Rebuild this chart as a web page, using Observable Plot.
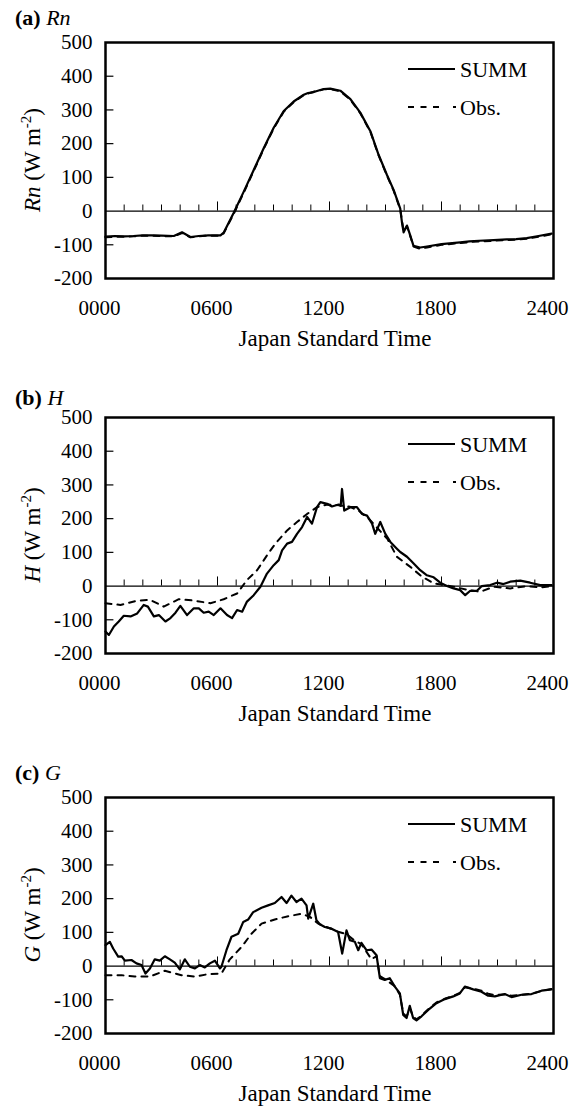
<!DOCTYPE html>
<html><head><meta charset="utf-8">
<script src="https://cdn.jsdelivr.net/npm/d3@7"></script>
<script src="https://cdn.jsdelivr.net/npm/@observablehq/plot@0.6"></script>
<style>
body{margin:0;background:#fff;}
#chart{position:relative;width:572px;height:1110px;background:#fff;}
#chart svg{position:absolute;left:0;}
</style>
</head><body><div id="chart"></div>
<script>
// ---- tick definitions ----
const xTicks = [0, 6, 12, 18, 24];
const xTickLabels = ["0000", "0600", "1200", "1800", "2400"];
const yLabelTicks = [500, 400, 300, 200, 100, 0, -100, -200];
const yInnerTicks = [400, 300, 200, 100, -100];
const hourTicks = d3.range(1, 24);
const seriesNames = ["SUMM", "Obs."];
const axisTitle = "Japan Standard Time";

// ---- (a) Rn ----
const rnHours = [0,0.5,1.0,1.5,2.0,2.5,3.0,3.66,4.1,4.55,5.0,5.5,6.16,6.33,6.87,7.4,7.94,8.48,9.01,9.55,10.08,10.62,10.85,11.15,11.69,12.04,12.58,13.12,13.65,14.19,14.63,15.08,15.44,15.79,15.88,15.97,16.15,16.33,16.5,16.86,17.22,18.0,19.0,19.5,20.0,20.79,21.5,22.0,22.57,23.2,23.9];
const rnSumm  = [-76,-74,-75,-74,-72,-72,-73,-74,-63,-77,-74,-72,-72,-64,-5,57,122,187,247,297,325,345,350,353,362,363,357,332,292,237,167,107,62,7,-33,-63,-43,-73,-103,-108,-105,-98,-93,-90,-88,-86,-84,-83,-80,-74,-67];
const rnObsHours = [0,0.5,1.0,1.5,2.0,2.5,3.0,3.66,4.1,4.55,5.0,5.5,6.16,6.33,6.87,7.4,7.94,8.48,9.01,9.55,10.08,10.62,11.15,11.69,12.04,12.58,13.12,13.65,14.19,14.63,15.08,15.44,15.79,15.97,16.15,16.33,16.5,16.86,17.22,18.0,19.0,19.5,20.0,20.79,21.5,22.0,22.57,23.2,23.9];
const rnObs   = [-78,-76,-76,-75,-73,-73,-74,-75,-65,-78,-75,-73,-73,-66,-8,54,119,185,245,295,323,344,354,361,362,355,330,290,235,165,105,60,5,-60,-45,-75,-105,-112,-108,-100,-95,-92,-90,-88,-86,-85,-82,-76,-69];

// ---- (b) H ----
const hHours = [0,0.18,0.45,0.71,0.98,1.34,1.7,2.05,2.27,2.59,2.86,3.21,3.48,3.75,4.01,4.37,4.73,5.0,5.26,5.53,5.8,6.16,6.51,6.78,7.05,7.32,7.58,7.94,8.3,8.65,9.01,9.28,9.46,9.73,9.99,10.26,10.53,10.8,11.06,11.33,11.51,11.87,12.13,12.49,12.6,12.67,12.79,13.12,13.47,13.74,14.01,14.28,14.45,14.72,14.99,15.26,15.61,15.79,16.15,16.51,16.86,17.22,17.58,17.93,18.29,18.65,19.0,19.27,19.54,19.9,20.16,20.61,20.97,21.32,21.68,22.22,22.75,23.29,23.9];
const hSumm  = [-135,-145,-120,-105,-88,-90,-81,-56,-61,-90,-86,-105,-95,-79,-59,-86,-66,-66,-79,-76,-86,-66,-86,-95,-71,-76,-46,-27,-2,37,62,77,106,126,131,155,175,205,185,234,249,244,236,242,238,288,224,234,234,214,209,185,155,190,155,131,111,101,87,67,47,32,26,10,0,-7,-12,-27,-14,-14,0,3,10,6,13,16,10,3,3];
const hObsHours = [0,0.8,1.7,2.4,3.12,3.93,4.73,5.62,6.33,7.05,7.58,8.12,8.65,9.1,9.73,10.26,10.8,11.33,11.9,12.5,13.1,13.6,14.1,14.6,15.1,15.61,16.33,16.95,17.58,18.65,19.3,20.07,20.8,21.68,22.57,23.29,23.9];
const hObs   = [-51,-56,-43,-41,-61,-39,-43,-51,-39,-22,18,47,91,126,165,190,214,234,242,240,235,222,200,170,140,87,57,28,8,-2,-10,-17,-2,-7,0,-4,0];

// ---- (c) G ----
const gHours = [0,0.23,0.41,0.68,0.86,1.04,1.39,1.66,1.93,2.14,2.38,2.64,2.91,3.18,3.45,3.71,3.98,4.25,4.52,4.79,5.05,5.32,5.59,5.86,6.13,6.21,6.48,6.75,7.11,7.38,7.64,7.91,8.36,8.71,9.07,9.43,9.7,9.96,10.23,10.5,10.77,10.86,11.13,11.3,11.48,11.75,12.11,12.46,12.68,12.91,13.09,13.36,13.54,13.71,13.98,14.25,14.52,14.61,14.7,14.96,15.23,15.5,15.77,15.95,16.13,16.3,16.48,16.66,16.93,17.29,17.73,18.18,18.63,18.98,19.25,19.7,20.14,20.5,20.86,21.39,21.75,22.29,22.82,23.36,23.89];
const gSumm  = [62,72,52,28,29,16,18,8,3,-22,-7,20,16,29,20,10,-10,20,-2,-7,3,-4,8,16,-7,-2,47,87,96,131,138,160,173,180,187,205,187,209,190,200,180,141,185,136,124,116,111,101,37,106,77,72,47,69,47,49,32,-2,-36,-41,-36,-61,-81,-145,-154,-118,-154,-161,-149,-130,-110,-98,-90,-81,-61,-69,-76,-88,-90,-83,-92,-85,-83,-73,-69];
const gObsHours = [0,0.86,1.57,2.38,3.18,4.07,4.79,5.5,6.21,6.66,7.29,7.82,8.36,9.07,9.79,10.5,10.95,11.39,11.75,12.11,12.46,12.9,13.36,13.71,14.25,14.52,14.7,15.0,15.5,15.77,15.95,16.13,16.3,16.48,16.66,16.93,17.29,17.73,18.18,18.63,18.98,19.25,19.7,20.14,20.5,20.86,21.39,21.75,22.29,22.82,23.36,23.89];
const gObs   = [-27,-27,-31,-31,-14,-27,-31,-24,-22,20,57,96,126,138,148,155,146,126,118,110,102,95,75,65,20,30,-30,-40,-60,-85,-140,-150,-125,-150,-158,-147,-128,-108,-97,-88,-80,-63,-67,-73,-82,-86,-84,-88,-85,-82,-74,-68];

const panels = [
  {letter: "(a)", sym: "Rn", top: 0,   titleY: 25, sx: rnHours, sy: rnSumm, ox: rnObsHours, oy: rnObs},
  {letter: "(b)", sym: "H",  top: 375, titleY: 30, sx: hHours,  sy: hSumm,  ox: hObsHours,  oy: hObs},
  {letter: "(c)", sym: "G",  top: 755, titleY: 25, sx: gHours,  sy: gSumm,  ox: gObsHours,  oy: gObs}
];

const FONT = "'Liberation Serif', 'Times New Roman', serif";
const W = 572, H = 355, mL = 105, mR = 19, mT = 42, mB = 77;

const chart = document.getElementById("chart");

function addText(s, x, y, size, anchor) {
  return s.append("text").attr("x", x).attr("y", y)
    .attr("font-family", FONT).attr("font-size", size).attr("fill", "black")
    .attr("text-anchor", anchor || "start");
}

for (const p of panels) {
  const summ = p.sx.map((h, i) => ({h, v: p.sy[i]}));
  const obs = p.ox.map((h, i) => ({h, v: p.oy[i]}));
  const svg = Plot.plot({
    width: W, height: H,
    marginLeft: mL, marginRight: mR, marginTop: mT, marginBottom: mB,
    x: {domain: [0, 24]},
    y: {domain: [-200, 500]},
    style: {fontFamily: FONT, fontSize: "21px", color: "black", background: "white", overflow: "visible"},
    marks: [
      Plot.ruleY([0], {stroke: "black", strokeWidth: 1.2}),
      Plot.ruleX(hourTicks, {x: d => d, y1: 0, y2: d => (d % 6 === 0 ? 27 : 18), stroke: "black", strokeWidth: 1}),
      Plot.ruleY(yInnerTicks, {y: d => d, x1: 0, x2: 0.45, stroke: "black", strokeWidth: 1.2}),
      Plot.axisY({ticks: yLabelTicks, tickSize: 0, tickPadding: 13, tickFormat: d => String(d), label: null}),
      Plot.axisX({ticks: xTicks, tickSize: 0, tickPadding: 22, dx: -6, tickFormat: d => xTickLabels[xTicks.indexOf(d)], label: null}),
      Plot.line(obs, {x: "h", y: "v", stroke: "black", strokeWidth: 2, strokeDasharray: "6,6"}),
      Plot.line(summ, {x: "h", y: "v", stroke: "black", strokeWidth: 2.2}),
      Plot.frame({stroke: "black", strokeWidth: 2.5})
    ]
  });
  svg.style.top = p.top + "px";
  const s = d3.select(svg);
  // panel title
  const t = addText(s, 15, p.titleY, 22, "start");
  t.append("tspan").attr("font-weight", "bold").text(p.letter);
  t.append("tspan").text(" ");
  t.append("tspan").attr("font-style", "italic").text(p.sym);
  // y-axis label
  const cy = mT + (H - mT - mB) / 2;
  const yl = s.append("text").attr("transform", `translate(40,${cy}) rotate(-90)`)
    .attr("text-anchor", "middle").attr("font-family", FONT).attr("font-size", 23).attr("fill", "black");
  yl.append("tspan").attr("font-style", "italic").text(p.sym);
  yl.append("tspan").text(" (W m");
  yl.append("tspan").attr("font-size", 15).attr("dy", "-9").text("-2");
  yl.append("tspan").attr("dy", "9").text(")");
  // x-axis title
  addText(s, 335, mT + (H - mT - mB) + 68, 23, "middle").text(axisTitle);
  // legend
  const ly1 = mT + 27, ly2 = mT + 65;
  s.append("line").attr("x1", 408).attr("x2", 455).attr("y1", ly1).attr("y2", ly1)
    .attr("stroke", "black").attr("stroke-width", 2.2);
  s.append("line").attr("x1", 408).attr("x2", 456).attr("y1", ly2).attr("y2", ly2)
    .attr("stroke", "black").attr("stroke-width", 2.2).attr("stroke-dasharray", "6,6.5,6,6.5,6,14,3");
  addText(s, 460, ly1 + 8, 22, "start").text(seriesNames[0]);
  addText(s, 460, ly2 + 8, 22, "start").text(seriesNames[1]);
  chart.appendChild(svg);
}
</script>
</body></html>
